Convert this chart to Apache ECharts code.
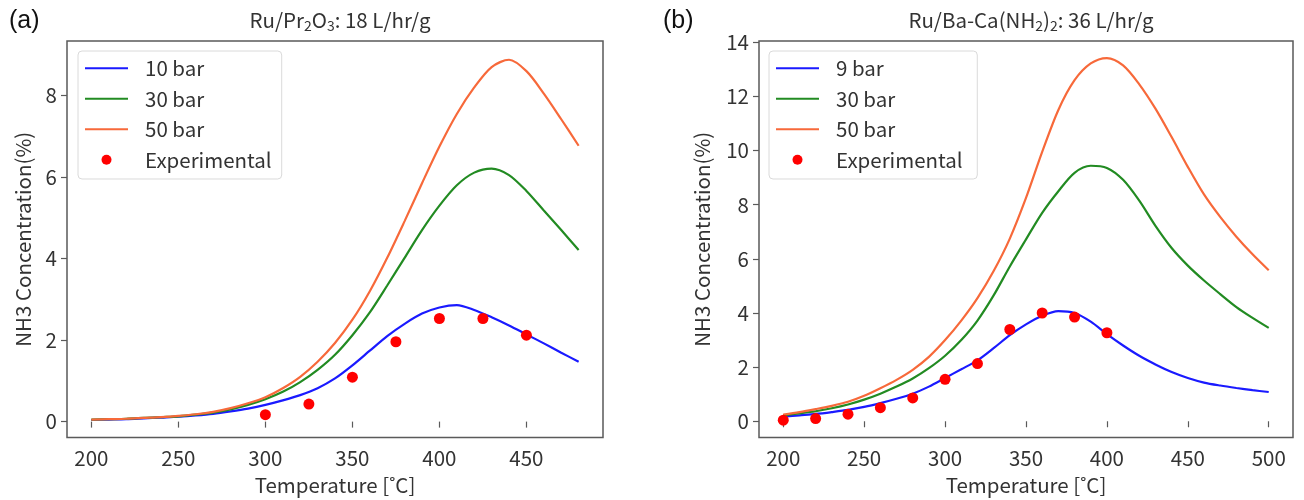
<!DOCTYPE html>
<html>
<head>
<meta charset="utf-8">
<script src="https://cdn.jsdelivr.net/npm/echarts@6/dist/echarts.min.js"></script>
<style>
  html, body { margin: 0; padding: 0; background: #fff; }
  #chart { width: 1304px; height: 500px; }
</style>
</head>
<body>
<div id="chart"></div>
<script>
// (a) Ru/Pr2O3 — model curves at 10/30/50 bar and measured points
const tempA = [200, 210, 220, 230, 240, 250, 260, 270, 280, 290, 300, 310, 320, 330, 340, 350, 360, 370, 380, 390, 400, 410, 420, 430, 440, 450, 460, 470, 480];
const a10bar = [0.04, 0.05, 0.06, 0.08, 0.10, 0.12, 0.15, 0.19, 0.25, 0.32, 0.41, 0.52, 0.65, 0.82, 1.06, 1.38, 1.74, 2.10, 2.40, 2.65, 2.80, 2.86, 2.74, 2.56, 2.36, 2.14, 1.92, 1.69, 1.47];
const a30bar = [0.05, 0.06, 0.07, 0.09, 0.11, 0.13, 0.17, 0.22, 0.30, 0.41, 0.55, 0.73, 0.97, 1.27, 1.64, 2.12, 2.68, 3.34, 4.02, 4.70, 5.30, 5.80, 6.11, 6.21, 6.05, 5.66, 5.18, 4.70, 4.21];
const a50bar = [0.05, 0.06, 0.07, 0.09, 0.11, 0.14, 0.18, 0.24, 0.33, 0.45, 0.60, 0.82, 1.10, 1.47, 1.93, 2.50, 3.20, 4.02, 4.92, 5.85, 6.75, 7.55, 8.20, 8.70, 8.88, 8.60, 8.05, 7.42, 6.77];
const expTempA = [300, 325, 350, 375, 400, 425, 450];
const expA = [0.17, 0.43, 1.09, 1.96, 2.53, 2.53, 2.12];

// (b) Ru/Ba-Ca(NH2)2 — model curves at 9/30/50 bar and measured points
const tempB = [200, 210, 220, 230, 240, 250, 260, 270, 280, 290, 300, 310, 320, 330, 340, 350, 360, 370, 380, 390, 400, 410, 420, 430, 440, 450, 460, 470, 480, 490, 500];
const b9bar = [0.17, 0.22, 0.27, 0.34, 0.42, 0.53, 0.67, 0.83, 1.02, 1.28, 1.60, 1.92, 2.25, 2.70, 3.18, 3.58, 3.90, 4.07, 4.00, 3.68, 3.22, 2.80, 2.42, 2.10, 1.82, 1.60, 1.43, 1.32, 1.23, 1.15, 1.08];
const b30bar = [0.22, 0.29, 0.37, 0.48, 0.62, 0.80, 1.02, 1.28, 1.58, 1.96, 2.42, 3.00, 3.72, 4.65, 5.72, 6.72, 7.70, 8.50, 9.18, 9.44, 9.36, 8.92, 8.15, 7.22, 6.40, 5.75, 5.20, 4.70, 4.22, 3.82, 3.45];
const b50bar = [0.25, 0.34, 0.45, 0.57, 0.72, 0.94, 1.22, 1.53, 1.90, 2.38, 3.00, 3.72, 4.55, 5.55, 6.75, 8.25, 9.95, 11.50, 12.60, 13.22, 13.42, 13.15, 12.45, 11.55, 10.50, 9.40, 8.38, 7.55, 6.82, 6.17, 5.58];
const expTempB = [200, 220, 240, 260, 280, 300, 320, 340, 360, 380, 400];
const expB = [0.04, 0.10, 0.26, 0.50, 0.86, 1.55, 2.13, 3.39, 4.00, 3.85, 3.27];

// Tick labels
const ticksAx = [200, 250, 300, 350, 400, 450];
const ticksAy = [0, 2, 4, 6, 8];
const ticksBx = [200, 250, 300, 350, 400, 450, 500];
const ticksBy = [0, 2, 4, 6, 8, 10, 12, 14];

const FONT = '"Noto Sans CJK JP", "Noto Sans", sans-serif';
const FS = 20.5;
const TXT = '#333';
const FRAME = '#5a5a5a';
const C_BLUE = '#1a1aff';
const C_GREEN = '#228b22';
const C_ORANGE = '#f7693a';
const C_RED = '#ff0000';
const LINE_ICON = 'path://M0 0H43V2.2H0Z';

const pairs = (xs, ys) => xs.map((x, i) => [x, ys[i]]);

function xAxisFor(gridIndex, min, max, ticks) {
  return {
    type: 'value', gridIndex, min, max,
    name: 'Temperature [˚C]', nameLocation: 'middle', nameGap: 37,
    nameTextStyle: { fontFamily: FONT, fontSize: FS, color: TXT },
    axisLine: { show: false },
    splitLine: { show: false },
    axisTick: { show: true, length: 6, customValues: ticks, lineStyle: { color: FRAME, width: 1.2 } },
    axisLabel: { customValues: ticks, margin: 10, fontFamily: FONT, fontSize: FS, color: TXT }
  };
}
function yAxisFor(gridIndex, min, max, ticks, gap) {
  return {
    type: 'value', gridIndex, min, max,
    name: 'NH3 Concentration(%)', nameLocation: 'middle', nameGap: gap,
    nameTextStyle: { fontFamily: FONT, fontSize: FS, color: TXT },
    axisLine: { show: false },
    splitLine: { show: false },
    axisTick: { show: true, length: 6, customValues: ticks, lineStyle: { color: FRAME, width: 1.2 } },
    axisLabel: { customValues: ticks, margin: 10, fontFamily: FONT, fontSize: FS, color: TXT }
  };
}
function lineSeries(name, xi, yi, xs, ys, color) {
  return {
    type: 'line', name, xAxisIndex: xi, yAxisIndex: yi,
    data: pairs(xs, ys), smooth: 0.3,
    symbol: 'none', showSymbol: false,
    lineStyle: { color, width: 2.2 }, itemStyle: { color },
    z: 2
  };
}
function scatterSeries(name, xi, yi, xs, ys) {
  return {
    type: 'scatter', name, xAxisIndex: xi, yAxisIndex: yi,
    data: pairs(xs, ys), symbol: 'circle', symbolSize: 11,
    itemStyle: { color: C_RED, opacity: 1 }, z: 5
  };
}
function legendFor(left, names) {
  return {
    orient: 'vertical', left, top: 51,
    data: names.map(n => n.trim() === 'Experimental' ? { name: n, icon: 'circle' } : { name: n, icon: LINE_ICON }),
    itemWidth: 43, itemHeight: 10, itemGap: 10,
    padding: [7, 10, 9, 7],
    backgroundColor: '#fff', borderColor: '#dadada', borderWidth: 1, borderRadius: 4,
    textStyle: { fontFamily: FONT, fontSize: FS, color: TXT, lineHeight: 20, padding: [0, 0, 0, 12] },
    selectedMode: false
  };
}

const titleRich = {
  m: { fontFamily: FONT, fontSize: 20.5, fontWeight: 'normal', color: TXT, lineHeight: 26 },
  s: { fontFamily: FONT, fontSize: 14, fontWeight: 'normal', color: TXT, lineHeight: 16, verticalAlign: 'bottom' }
};

const chart = echarts.init(document.getElementById('chart'), null, { renderer: 'canvas' });
chart.setOption({
  backgroundColor: '#fff',
  animation: false,
  title: [
    { text: '(a)', left: 4, top: 4, textStyle: { fontFamily: 'Liberation Sans, Arial, sans-serif', fontSize: 25, fontWeight: 'normal', color: '#111' } },
    { text: '(b)', left: 658, top: 4, textStyle: { fontFamily: 'Liberation Sans, Arial, sans-serif', fontSize: 25, fontWeight: 'normal', color: '#111' } },
    { text: '{m|Ru/Pr}{s|2}{m|O}{s|3}{m|: 18 L/hr/g}', left: 335, top: 2, textAlign: 'center', textStyle: { rich: titleRich } },
    { text: '{m|Ru/Ba-Ca(NH}{s|2}{m|)}{s|2}{m|: 36 L/hr/g}', left: 1026, top: 2, textAlign: 'center', textStyle: { rich: titleRich } }
  ],
  legend: [
    legendFor(78, ['10 bar', '30 bar', '50 bar', 'Experimental']),
    legendFor(769, ['9 bar', '30 bar ', '50 bar ', 'Experimental '])
  ],
  grid: [
    { left: 67, top: 41, width: 536, height: 397, show: true, borderColor: FRAME, borderWidth: 1.5, backgroundColor: 'transparent' },
    { left: 759, top: 41, width: 534, height: 397, show: true, borderColor: FRAME, borderWidth: 1.5, backgroundColor: 'transparent' }
  ],
  xAxis: [
    xAxisFor(0, 186, 494, ticksAx),
    xAxisFor(1, 185, 515, ticksBx)
  ],
  yAxis: [
    yAxisFor(0, -0.39, 9.34, ticksAy, 34),
    yAxisFor(1, -0.6, 14.05, ticksBy, 47)
  ],
  series: [
    lineSeries('10 bar', 0, 0, tempA, a10bar, C_BLUE),
    lineSeries('30 bar', 0, 0, tempA, a30bar, C_GREEN),
    lineSeries('50 bar', 0, 0, tempA, a50bar, C_ORANGE),
    scatterSeries('Experimental', 0, 0, expTempA, expA),
    lineSeries('9 bar', 1, 1, tempB, b9bar, C_BLUE),
    lineSeries('30 bar ', 1, 1, tempB, b30bar, C_GREEN),
    lineSeries('50 bar ', 1, 1, tempB, b50bar, C_ORANGE),
    scatterSeries('Experimental ', 1, 1, expTempB, expB)
  ]
});
</script>
</body>
</html>
